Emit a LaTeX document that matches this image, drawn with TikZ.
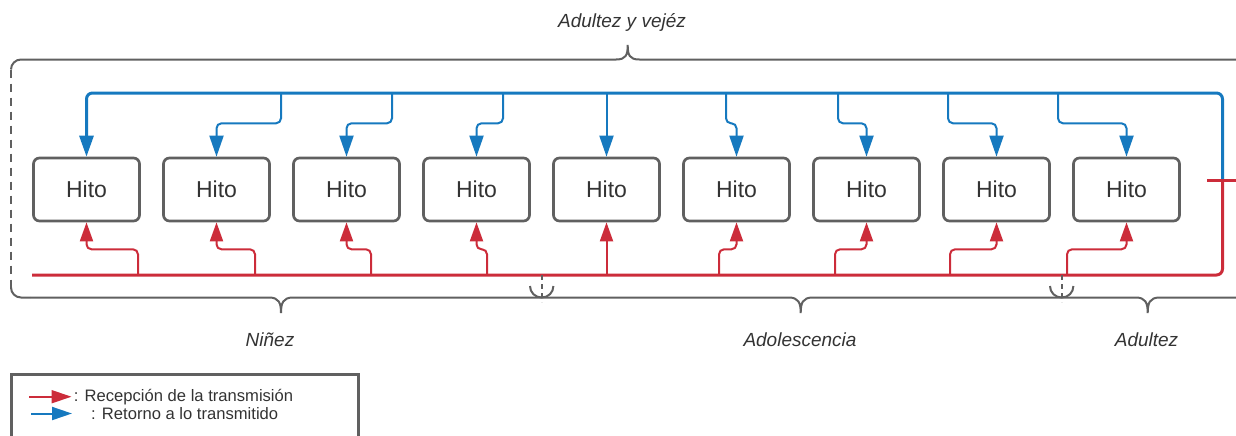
\documentclass[tikz,border=0pt]{standalone}
\usepackage{fontspec}
\setmainfont{Liberation Sans}
\usetikzlibrary{arrows.meta}
\definecolor{recred}{RGB}{204,44,58}
\definecolor{retblue}{RGB}{22,121,191}
\definecolor{framegray}{RGB}{96,96,96}
\definecolor{txtgray}{RGB}{51,51,51}

\begin{document}
\begin{tikzpicture}[x=0.5pt, y=-0.5pt,
  hito/.style={draw=framegray, line width=1.35pt, rounded corners=3pt, minimum width=53pt,
    minimum height=31.5pt, inner sep=0pt, text=txtgray, font=\fontsize{11.5}{13}\selectfont},
  rec/.style={draw=recred, line width=1pt, rounded corners=2.5pt, -{Triangle[length=9.5pt, width=6.5pt]}},
  ret/.style={draw=retblue, line width=1pt, rounded corners=2.5pt, -{Triangle[length=10.5pt, width=7pt]}},
  bus/.style={line width=1.5pt, rounded corners=3pt},
  brace/.style={draw=framegray, line width=1pt},
  stage/.style={text=txtgray, font=\fontsize{9.5}{11}\selectfont\itshape},
  legtxt/.style={text=txtgray, font=\fontsize{8.3}{10}\selectfont, anchor=west, inner sep=0pt}]
  \useasboundingbox (0,0) rectangle (1236,435);

  % hitos
  \foreach \i in {1,...,9}
    \node [hito] (h\i) at ({86.5+130*(\i-1)}, 189.5) {Hito};

  % retorno
  \coordinate (jn) at (1222.5,180);
  \draw [ret, bus] (jn) -- (1222.5,93) -| (h1.north);
  \foreach \i/\x in {2/281, 3/392, 4/503, 6/726, 7/838, 8/948, 9/1058}
    \draw [ret] (\x,93) -- (\x,123.3) -| (h\i.north);
  \draw [ret] (h5.north |- 0,93) -- (h5.north);

  % recepcion
  \draw [recred, bus] (32,275) -- (1222.5,275) -- (jn);
  \draw [recred, line width=1.5pt] (1207,180) -- (1237,180);
  \foreach \i/\x in {1/138, 2/255, 3/371, 4/487, 6/719, 7/835, 8/950, 9/1067}
    \draw [rec] (\x,275) -- (\x,249.3) -| (h\i.south);
  \draw [rec] (h5.south |- 0,275) -- (h5.south);

  % llaves
  \draw [brace, rounded corners=5pt] (11,69.5) -- (11,59.5) -- (616,59.5);
  \draw [brace] (616,59.5) .. controls (626,59.5) and (627.7,55) .. (627.7,45)
    .. controls (627.7,55) and (629.4,59.5) .. (639.4,59.5) -- (1237,59.5);
  \draw [brace, dash pattern=on 4pt off 3pt] (11,69.5) -- (11,287.5);
  \draw [brace, rounded corners=5pt] (11,287.5) -- (11,297.5) -- (30,297.5);
  \draw [brace] (30,297.5)
    foreach \t in {281, 800.7, 1147.7} {
      -- (\t-12,297.5) .. controls (\t-2,297.5) and (\t,303) .. (\t,313)
      .. controls (\t,303) and (\t+2,297.5) .. (\t+12,297.5)
    } -- (1237,297.5);
  \foreach \d in {541.7, 1061.7} {
    \draw [brace] (\d-11.7,286) .. controls (\d-11.7,292.5) and (\d-6.5,297.5) .. (\d,297.5)
      .. controls (\d+6.5,297.5) and (\d+11.7,292.5) .. (\d+11.7,286);
    \draw [brace, dash pattern=on 2.5pt off 2pt] (\d,275) -- (\d,302);
  }

  \node [stage] (adv) at (622,22) {Adultez y vejéz};
  \node [stage] (nin) at (270,340) {Niñez};
  \node [stage] (ado) at (800,340) {Adolescencia};
  \node [stage] (adu) at (1146.5,340) {Adultez};

  % leyenda
  \draw [framegray, line width=1.5pt] (11,437) -- (11,374) -- (358,374) -- (358,437);
  \coordinate (lr) at (29,396.7);
  \coordinate (lre) at (71.5,396.7);
  \coordinate (lb) at (31,413.5);
  \coordinate (lbe) at (72,413.5);
  \node [legtxt] (lrt) at (73.5,396.7) {: Recepción de la transmisión};
  \node [legtxt] (lbt) at (90.8,413.5) {: Retorno a lo transmitido};
  \draw [recred, line width=1pt, -{Triangle[length=10pt, width=6.5pt]}] (lr) -- (lre);
  \draw [retblue, line width=1pt, -{Triangle[length=10pt, width=6.5pt]}] (lb) -- (lbe);
\end{tikzpicture}
\end{document}
